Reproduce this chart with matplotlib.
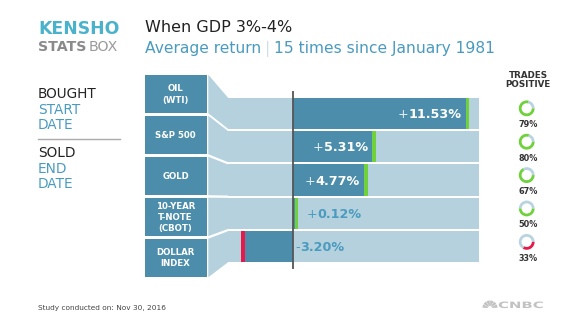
import matplotlib
matplotlib.use("Agg")
import numpy as np
import matplotlib.pyplot as plt
from matplotlib.patches import Rectangle, Polygon, Wedge, PathPatch
from matplotlib.textpath import TextPath
from matplotlib.font_manager import FontProperties
from matplotlib.transforms import Affine2D

plt.rcParams['font.family'] = ['DejaVu Sans']

# ---- data -------------------------------------------------------------
assets = ["OIL\n(WTI)", "S&P 500", "GOLD", "10-YEAR\nT-NOTE\n(CBOT)", "DOLLAR\nINDEX"]
avg_return = [11.53, 5.31, 4.77, 0.12, -3.20]          # percent
trades_positive = [79, 80, 67, 50, 33]                  # percent of trades

title = "When GDP 3%-4%"
subtitle_left = "Average return"
subtitle_right = "15 times since January 1981"
footnote = "Study conducted on: Nov 30, 2016"

# ---- style ------------------------------------------------------------
DARK = "#4b8dab"
LIGHT = "#b5d1dd"
GREEN = "#6fd13b"
RED = "#e8184a"
TEAL = "#4a9bbf"
RING_BG = "#b9d4e0"
INK = "#222222"

W, H = 572, 322
fig = plt.figure(figsize=(W / 100, H / 100), dpi=100)
fig.patch.set_facecolor("white")

# overlay in pixel units for the decorations
ov = fig.add_axes([0, 0, 1, 1])
ov.set_xlim(0, W)
ov.set_ylim(H, 0)
ov.axis("off")
ov.set_zorder(2)

# bar panel
bx0, bx1 = 228.0, 479.3
by0, by1 = 90.7, 269.3
zero_px = 292.7
px_per_pct = 15.0
ax = fig.add_axes([bx0 / W, 1 - by1 / H, (bx1 - bx0) / W, (by1 - by0) / H])
ax.set_zorder(1)
xmin = -(zero_px - bx0) / px_per_pct
xmax = (bx1 - zero_px) / px_per_pct
ax.set_xlim(xmin, xmax)
ax.set_ylim(4.675, -0.675)
ax.axis("off")

rows = np.arange(len(avg_return))
bar_h = 0.93
tip_w = 0.227
vals = np.array(avg_return)
signs = np.sign(vals)
tip_colors = [GREEN if v >= 0 else RED for v in vals]

ax.barh(rows, xmax - xmin, left=xmin, height=bar_h, color=LIGHT, linewidth=0)
ax.barh(rows, vals, height=bar_h, color=DARK, linewidth=0)
ax.barh(rows, signs * tip_w, left=vals, height=bar_h, color=tip_colors, linewidth=0)
ax.axvline(0, color="#555555", lw=1.3, zorder=5)

renderer = fig.canvas.get_renderer()


def to_px(xv, yv):
    disp = ax.transData.transform((xv, yv))
    return ov.transData.inverted().transform(disp)


def text_run(x, y, pieces, ha="left", gaps=None):
    arts = [ov.text(0, y, s, va="baseline", ha="left", **kw) for s, kw in pieces]
    widths = [a.get_window_extent(renderer).width for a in arts]
    gaps = gaps if gaps is not None else [0] * (len(arts) - 1)
    total = sum(widths) + sum(gaps)
    cur = x - total if ha == "right" else x
    for i, a in enumerate(arts):
        a.set_x(cur)
        cur += widths[i] + (gaps[i] if i < len(gaps) else 0)
    return arts


# ---- value labels -----------------------------------------------------
lab_fs = 9.2
for i, v in enumerate(vals):
    num = f"{abs(v):.2f}%"
    sign = "+" if v >= 0 else "-"
    if v >= 1:
        x, yb = to_px(v - 0.3, i)
        text_run(x, yb + 4.7,
                 [(sign, dict(color="#e6f0f4", fontsize=lab_fs)),
                  (num, dict(color="white", fontsize=lab_fs, fontweight="bold"))],
                 ha="right")
    elif v >= 0:
        x, yb = to_px(v + tip_w + 0.55, i)
        text_run(x, yb + 4.7,
                 [(sign, dict(color=TEAL, fontsize=lab_fs)),
                  (num, dict(color=TEAL, fontsize=lab_fs, fontweight="bold"))])
    else:
        x, yb = to_px(0.2, i)
        text_run(x, yb + 4.7,
                 [(sign, dict(color=TEAL, fontsize=lab_fs)),
                  (num, dict(color=TEAL, fontsize=lab_fs, fontweight="bold"))])

# ---- category boxes and connectors -------------------------------------
box_l, box_r = 144.5, 206.7
box_top0, box_pitch, box_h = 74.7, 41.0, 38.5
for i, name in enumerate(assets):
    top = box_top0 + i * box_pitch
    ov.add_patch(Rectangle((box_l, top), box_r - box_l, box_h, color=DARK, lw=0))
    ov.text((box_l + box_r) / 2, top + box_h / 2 + 0.5, name, color="white",
            fontsize=6.2, fontweight="bold", ha="center", va="center",
            multialignment="center", linespacing=1.3)
    _, bar_top = to_px(0, i - bar_h / 2)
    _, bar_bot = to_px(0, i + bar_h / 2)
    ov.add_patch(Polygon([(box_r + 1.6, top), (bx0, bar_top), (bx0, bar_bot),
                          (box_r + 1.6, top + box_h)], closed=True, color=LIGHT, lw=0))

# ---- left legend text ---------------------------------------------------
lx = 37.7
lfs = 9.8
ov.text(lx, 98.0, "BOUGHT", color=INK, fontsize=lfs, va="baseline")
ov.text(lx, 113.7, "START", color=TEAL, fontsize=lfs, va="baseline")
ov.text(lx, 129.0, "DATE", color=TEAL, fontsize=lfs, va="baseline")
ov.plot([lx, 120], [138.7, 138.7], color="#aaaaaa", lw=1)
ov.text(lx, 157.4, "SOLD", color=INK, fontsize=lfs, va="baseline")
ov.text(lx, 172.7, "END", color=TEAL, fontsize=lfs, va="baseline")
ov.text(lx, 187.7, "DATE", color=TEAL, fontsize=lfs, va="baseline")

# ---- header -------------------------------------------------------------
ov.text(38, 33.5, "KENSHO", color="#4ab2cb", fontsize=12.4, fontweight="bold",
        va="baseline")
text_run(38, 51.0, [("STATS", dict(color="#8a8a8a", fontsize=10.2, fontweight="bold")),
                    ("BOX", dict(color="#9a9a9a", fontsize=10.2))], gaps=[2.5])

ov.text(145, 32.4, title, color=INK, fontsize=11.5, va="baseline")
text_run(145, 52.5, [(subtitle_left, dict(color=TEAL, fontsize=11.2)),
                     ("|", dict(color="#cfdfe6", fontsize=11.2)),
                     (subtitle_right, dict(color=TEAL, fontsize=11.2))],
         gaps=[3.5, 3.5])

# ---- trades positive rings ---------------------------------------------
rx = 526.7
ov.text(528, 78.3, "TRADES", color="#333333", fontsize=6.3, fontweight="bold",
        ha="center", va="baseline")
ov.text(528, 87.3, "POSITIVE", color="#333333", fontsize=6.3, fontweight="bold",
        ha="center", va="baseline")
r_out, r_w = 7.9, 2.8
for i, p in enumerate(trades_positive):
    _, cy = to_px(0, i)
    cyr = cy - 4.9
    col = GREEN if vals[i] >= 0 else RED
    ang = p / 100 * 360
    ov.add_patch(Wedge((rx, cyr), r_out, ang, 360, width=r_w, color=RING_BG, lw=0))
    ov.add_patch(Wedge((rx, cyr), r_out, 0, ang, width=r_w, color=col, lw=0))
    ov.text(rx + 1.5, cy + 14.0, f"{p}%", color="#333333", fontsize=5.9,
            fontweight="bold", ha="center", va="baseline")

# ---- footer -------------------------------------------------------------
ov.text(38.3, 310, footnote, color="#444444", fontsize=5.3, va="baseline")

# peacock mark
pc_x, pc_y = 490.0, 308.0
for k in range(6):
    t1 = 180 + k * 30 + 2
    ov.add_patch(Wedge((pc_x, pc_y), 7.5, t1, t1 + 26, color="#c2c2c2", lw=0))
ov.add_patch(Wedge((pc_x, pc_y), 2.0, 180, 360, color="white", lw=0))

tp = TextPath((0, 0), "CNBC", size=7.0, prop=FontProperties(family="DejaVu Sans", weight="bold"))
tw = tp.get_extents().width
sx = 44.0 / tw
tr = Affine2D().scale(sx, -1.25).translate(498.0, 308.0) + ov.transData
ov.add_patch(PathPatch(tp, transform=tr, color="#c2c2c2", lw=0))

fig.savefig("out.png", dpi=100, facecolor="white")
